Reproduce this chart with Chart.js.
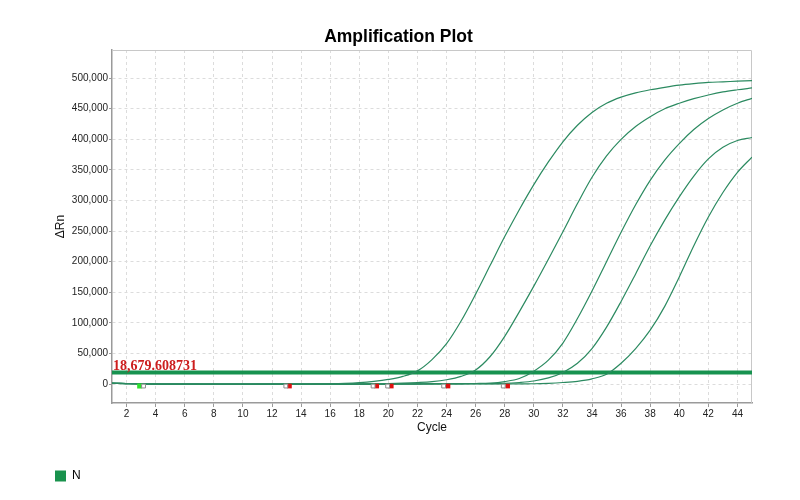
<!DOCTYPE html>
<html>
<head>
<meta charset="utf-8">
<script src="https://cdn.jsdelivr.net/npm/chart.js@4.4.0/dist/chart.umd.min.js"></script>
<style>
html,body{margin:0;padding:0;background:#fff;}
#wrap{width:800px;height:500px;position:relative;}
canvas{display:block;}
</style>
</head>
<body>
<div id="wrap"><canvas id="c" width="800" height="500"></canvas></div>
<script>
// ---- data ----
const cycles = [1,2,3,4,5,6,7,8,9,10,11,12,13,14,15,16,17,18,19,20,21,22,23,24,25,26,27,28,29,30,31,32,33,34,35,36,37,38,39,40,41,42,43,44,45];
const curve1 = [1500,900,400,100,0,-200,-300,-400,-400,-400,-300,-300,-200,-100,100,400,1000,2200,4300,7500,12500,21500,40000,66000,103000,147000,194000,241000,285000,326000,363000,396000,423000,444000,459000,469000,476000,481000,485000,488500,491000,493000,494000,495000,496000];
const curve2 = [1200,700,300,0,-100,-200,-300,-300,-300,-300,-300,-200,-200,-100,0,0,0,200,500,900,1500,2500,4000,7000,12500,23000,45000,78000,118000,160000,204000,249000,295000,338000,373000,400000,421000,437000,450000,459000,466500,472500,477500,481000,484000];
const curve3 = [1300,800,300,0,-100,-200,-300,-300,-300,-300,-300,-300,-200,-200,-100,-100,0,0,0,100,200,300,400,500,700,900,1500,4000,9000,21000,39000,67000,107000,152000,200000,248000,293000,333000,366000,393000,416000,434000,448000,459000,467000];
const curve4 = [1300,800,300,0,-100,-200,-300,-300,-300,-300,-300,-300,-200,-200,-100,-100,0,0,0,0,100,100,200,300,400,500,700,1000,2500,5000,10000,19000,34000,58000,93000,135000,180000,226000,268000,306000,340000,368000,387000,398000,403000];
const curve5 = [1400,800,300,0,-100,-200,-300,-300,-300,-300,-300,-300,-300,-200,-200,-100,-100,0,0,0,0,0,100,100,200,200,300,300,400,500,1200,2500,4500,8500,16000,34000,58000,88000,127000,175000,226000,273000,313000,346000,371000];
const curves = [curve1, curve2, curve3, curve4, curve5];

const threshold = 18679.608731;
const thresholdLabel = '18,679.608731';
const xTicks = [2,4,6,8,10,12,14,16,18,20,22,24,26,28,30,32,34,36,38,40,42,44];
const yTicks = [0,50000,100000,150000,200000,250000,300000,350000,400000,450000,500000];
const markerY = -3300;
const greenMarkerCycles = [2.9];
const openMarkerCycles = [3.17, 12.95, 18.95, 19.95, 23.8, 27.9];
const redMarkerCycles = [13.2, 19.2, 20.2, 24.1, 28.2];
const legendLabels = ['N'];

// ---- chart ----
Chart.defaults.font.family = '"Liberation Sans", Arial, sans-serif';
Chart.defaults.color = '#222';

const curveDatasets = curves.map((vals, i) => ({
  label: 'Well ' + (i + 1),
  data: cycles.map((c, k) => ({x: c, y: vals[k]})),
  borderColor: '#2b8a60',
  borderWidth: 1.2,
  pointRadius: 0,
  fill: false,
  cubicInterpolationMode: 'monotone',
  order: 2
}));

const thresholdDataset = {
  label: 'Threshold',
  data: [{x: cycles[0], y: threshold}, {x: cycles[cycles.length - 1], y: threshold}],
  borderColor: '#17924f',
  borderWidth: 4,
  pointRadius: 0,
  fill: false,
  order: 3
};

const markerDatasets = [
  {label: 'open', data: openMarkerCycles.map(c => ({x: c, y: markerY})), showLine: false,
   pointStyle: 'rect', pointRadius: 2.7, backgroundColor: '#ffffff', borderColor: '#8c8c8c', borderWidth: 1, order: 0},
  {label: 'red', data: redMarkerCycles.map(c => ({x: c, y: markerY})), showLine: false,
   pointStyle: 'rect', pointRadius: 3.3, backgroundColor: '#e01010', borderColor: '#e01010', borderWidth: 0, order: 0},
  {label: 'green', data: greenMarkerCycles.map(c => ({x: c, y: markerY})), showLine: false,
   pointStyle: 'rect', pointRadius: 3.5, backgroundColor: '#2ee02e', borderColor: '#2ee02e', borderWidth: 0, order: 0}
];

const framePlugin = {
  id: 'frame',
  beforeDatasetsDraw(chart) {
    const {ctx, chartArea: a} = chart;
    ctx.save();
    ctx.strokeStyle = '#c8c8c8';
    ctx.lineWidth = 1;
    ctx.beginPath();
    ctx.moveTo(a.left, a.top + 0.5);
    ctx.lineTo(a.right - 0.5, a.top + 0.5);
    ctx.lineTo(a.right - 0.5, a.bottom);
    ctx.stroke();
    ctx.restore();
  }
};

const thresholdLabelPlugin = {
  id: 'thresholdLabel',
  afterDatasetsDraw(chart) {
    const {ctx, chartArea: a, scales} = chart;
    const y = scales.y.getPixelForValue(threshold);
    ctx.save();
    ctx.font = 'bold 14px "Liberation Serif", "Times New Roman", serif';
    ctx.fillStyle = '#cc1e1e';
    ctx.textAlign = 'left';
    ctx.textBaseline = 'alphabetic';
    ctx.fillText(thresholdLabel, a.left + 1, y - 3);
    ctx.restore();
  }
};

new Chart(document.getElementById('c'), {
  type: 'line',
  data: {datasets: [...markerDatasets, ...curveDatasets, thresholdDataset]},
  options: {
    responsive: false,
    animation: false,
    devicePixelRatio: 1,
    layout: {padding: {left: 45, right: 48, top: 0, bottom: 8}},
    scales: {
      x: {
        type: 'linear', min: 1, max: 45,
        afterBuildTicks: s => { s.ticks = xTicks.map(v => ({value: v})); },
        afterFit: s => { s.height = 57; },
        ticks: {font: {size: 10}, color: '#222', padding: 1, maxRotation: 0, autoSkip: false},
        grid: {color: '#dcdcdc', lineWidth: 1, tickLength: 4, tickColor: '#9a9a9a', drawTicks: true},
        border: {display: true, color: '#9a9a9a', width: 1.5, dash: [3, 3]},
        title: {display: true, text: 'Cycle', font: {size: 12}, color: '#111', padding: {top: 0, bottom: 25}}
      },
      y: {
        type: 'linear', min: -31000, max: 546000,
        afterBuildTicks: s => { s.ticks = yTicks.map(v => ({value: v})); },
        afterFit: s => { s.width = 67; },
        ticks: {font: {size: 10}, color: '#222', padding: 1, callback: v => v.toLocaleString('en-US')},
        grid: {color: '#dcdcdc', lineWidth: 1, tickLength: 3, tickColor: '#9a9a9a', drawTicks: true},
        border: {display: true, color: '#9a9a9a', width: 1.5, dash: [3, 3]},
        title: {display: true, text: 'ΔRn', font: {size: 12}, color: '#111', padding: {top: 8, bottom: 0}}
      }
    },
    plugins: {
      title: {display: true, text: 'Amplification Plot', color: '#000',
        font: {size: 17.5, weight: 'bold'}, padding: {top: 27, bottom: 2}},
      legend: {
        display: true, position: 'bottom', align: 'start', onClick: null,
        labels: {
          boxWidth: 11, boxHeight: 11, padding: 10, font: {size: 12}, color: '#222',
          generateLabels: () => legendLabels.map((t, i) => ({
            text: t, fillStyle: '#19924d', strokeStyle: '#19924d', lineWidth: 0, hidden: false, datasetIndex: i
          }))
        }
      },
      tooltip: {enabled: false}
    }
  },
  plugins: [framePlugin, thresholdLabelPlugin]
});
</script>
</body>
</html>
